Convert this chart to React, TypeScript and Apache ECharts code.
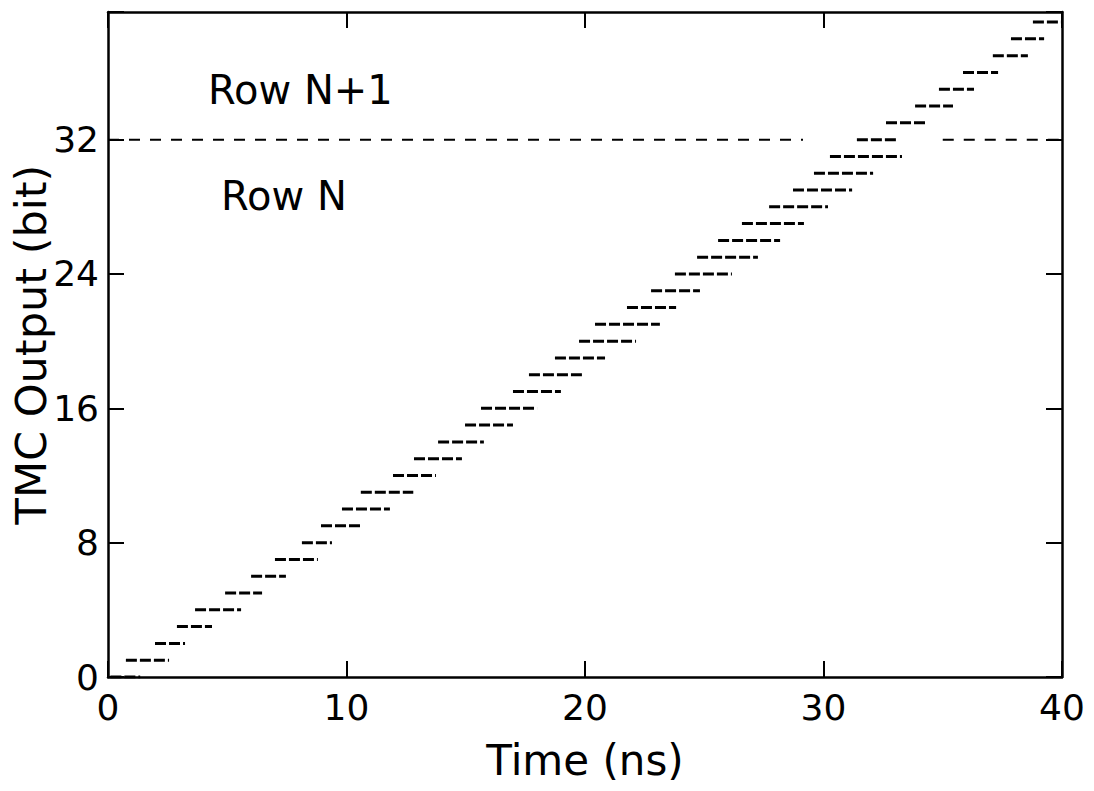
import React, { useEffect, useRef } from "react";
import * as echarts from "echarts";

// TMC output bit for each step
const bits = [0, 1, 2, 3, 4, 5, 6, 7, 8, 9, 10, 11, 12, 13, 14, 15, 16, 17, 18, 19, 20, 21, 22, 23, 24, 25, 26, 27, 28, 29, 30, 31, 32, 33, 34, 35, 36, 37, 38, 39];
// time (ns) where each output code first / last appears
const startNs = [0.1, 0.75, 1.97, 2.89, 3.65, 4.91, 6.0, 7.0, 8.13, 8.93, 9.81, 10.6, 11.95, 12.83, 13.84, 14.97, 15.64, 16.98, 17.65, 18.74, 19.75, 20.42, 21.76, 22.77, 23.77, 24.7, 25.58, 26.58, 27.72, 28.72, 29.6, 30.27, 31.4, 32.62, 33.84, 34.84, 35.85, 37.1, 37.86, 38.78];
const endNs = [1.35, 2.56, 3.23, 4.36, 5.58, 6.46, 7.46, 8.8, 9.39, 10.69, 11.82, 12.8, 13.75, 14.84, 15.76, 16.98, 17.99, 18.99, 19.87, 20.84, 22.14, 23.14, 23.82, 24.82, 26.16, 27.25, 28.18, 29.18, 30.19, 31.2, 32.08, 33.29, 33.07, 34.3, 35.43, 36.31, 37.32, 38.57, 39.25, 39.96];

// row boundary (dashed line) drawn in two pieces
const rowBoundaryBit = 32;
const boundaryPieces = [
  [0, 29.14],
  [35.0, 40],
];

const xTicks = [0, 10, 20, 30, 40];
const yTickInterval = 8;
const yMax = 39.6;

const texts = { rowUpper: "Row N+1", rowLower: "Row N", xName: "Time (ns)", yName: "TMC Output (bit)" };

const FONT = "DejaVu Sans";

export default function App() {
  const ref = useRef<HTMLDivElement>(null);
  useEffect(() => {
    if (!ref.current) return;
    const chart = echarts.init(ref.current, undefined, { renderer: "svg" });

    const stepData: any[] = [];
    bits.forEach((b, i) => {
      stepData.push([startNs[i], b]);
      stepData.push([endNs[i], b]);
      stepData.push("-");
    });
    const boundaryData: any[] = [];
    boundaryPieces.forEach((p) => {
      boundaryData.push([p[0], rowBoundaryBit]);
      boundaryData.push([p[1], rowBoundaryBit]);
      boundaryData.push("-");
    });

    const axisLine = { show: true, onZero: false, lineStyle: { color: "#000", width: 2.5 } };
    const axisTick = { show: true, inside: true, length: 16, lineStyle: { color: "#000", width: 2 } };

    chart.setOption({
      animation: false,
      backgroundColor: "#fff",
      grid: { left: 108, right: 32, top: 12, bottom: 114, containLabel: false, outerBoundsMode: "none" },
      xAxis: [
        {
          type: "value",
          min: 0,
          max: 40,
          interval: 10,
          position: "bottom",
          axisLine,
          axisTick,
          splitLine: { show: false },
          axisLabel: {
            color: "#000",
            fontFamily: FONT,
            fontSize: 36,
            margin: 12,
            formatter: (v: number) => (xTicks.includes(v) ? String(v) : ""),
          },
          name: texts.xName,
          nameLocation: "middle",
          nameGap: 62,
          nameMoveOverlap: false,
          nameTextStyle: { color: "#000", fontFamily: FONT, fontSize: 42 },
        },
        {
          type: "value",
          min: 0,
          max: 40,
          interval: 10,
          position: "top",
          axisLine,
          axisTick,
          splitLine: { show: false },
          axisLabel: { show: false },
        },
      ],
      yAxis: [
        {
          type: "value",
          min: 0,
          max: yMax,
          interval: yTickInterval,
          position: "left",
          axisLine,
          axisTick,
          splitLine: { show: false },
          axisLabel: {
            color: "#000",
            fontFamily: FONT,
            fontSize: 36,
            margin: 9,
            formatter: (v: number) => (v % yTickInterval === 0 ? String(v) : ""),
          },
          name: texts.yName,
          nameLocation: "middle",
          nameGap: 56,
          nameMoveOverlap: false,
          nameTextStyle: { color: "#000", fontFamily: FONT, fontSize: 43 },
        },
        {
          type: "value",
          min: 0,
          max: yMax,
          interval: yTickInterval,
          position: "right",
          axisLine,
          axisTick,
          splitLine: { show: false },
          axisLabel: { show: false },
        },
      ],
      series: [
        {
          type: "line",
          data: boundaryData,
          connectNulls: false,
          symbol: "none",
          silent: true,
          lineStyle: { color: "#000", width: 2, type: [11, 10] },
        },
        {
          type: "line",
          data: stepData,
          connectNulls: false,
          symbol: "none",
          silent: true,
          lineStyle: { color: "#000", width: 3, type: [11, 3], cap: "butt" },
        },
      ],
      graphic: [
        {
          type: "text",
          left: 208,
          top: 70,
          style: { text: texts.rowUpper, font: `40px "${FONT}"`, fill: "#000" },
        },
        {
          type: "text",
          left: 221,
          top: 176,
          style: { text: texts.rowLower, font: `40px "${FONT}"`, fill: "#000" },
        },
      ],
    });
    return () => chart.dispose();
  }, []);
  return <div ref={ref} style={{ position: "fixed", left: 0, top: 0, width: 1094, height: 791, background: "#fff" }} />;
}
